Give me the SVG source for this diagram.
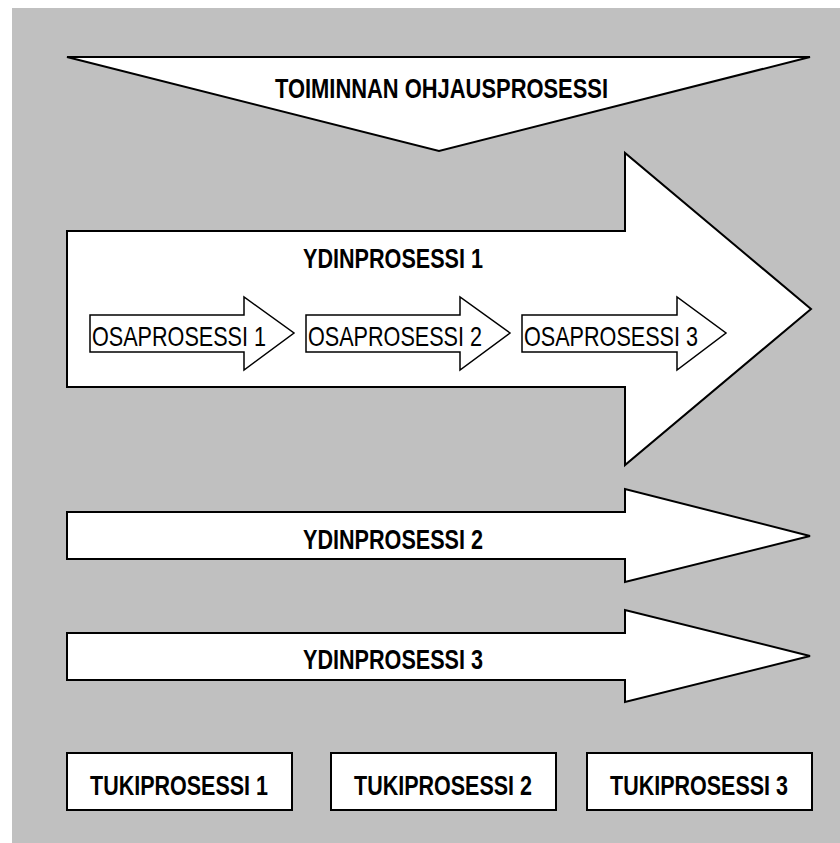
<svg xmlns="http://www.w3.org/2000/svg" width="840" height="843" viewBox="0 0 840 843">
<style>
.shape{fill:#ffffff;stroke:#000000;stroke-width:2;stroke-linejoin:miter}
.small{fill:#ffffff;stroke:#000000;stroke-width:1.5}
.b{font-family:"Liberation Sans",Arial,sans-serif;font-weight:bold;font-size:27px;fill:#000;text-anchor:start}
.r{font-family:"Liberation Sans",Arial,sans-serif;font-size:28px;fill:#000;text-anchor:start}
</style>
<rect x="12" y="8" width="828" height="835" fill="#c0c0c0"/>
<g id="ohjaus">
<polygon class="shape" points="67,57 810,57 439,151"/>
<text class="b" x="275" y="98" textLength="333" lengthAdjust="spacingAndGlyphs">TOIMINNAN OHJAUSPROSESSI</text>
</g>
<g id="ydin1">
<polygon class="shape" points="67,231 625,231 625,153 811,309 625,465 625,387 67,387"/>
<text class="b" x="303" y="268" textLength="180" lengthAdjust="spacingAndGlyphs">YDINPROSESSI 1</text>
</g>
<g id="osa1">
<polygon class="small" points="90,315 244,315 244,297 294,333 244,370 244,352 90,352"/>
<text class="r" x="92" y="346" textLength="174" lengthAdjust="spacingAndGlyphs">OSAPROSESSI 1</text>
</g>
<g id="osa2">
<polygon class="small" points="306,315 460,315 460,297 510,333 460,370 460,352 306,352"/>
<text class="r" x="308" y="346" textLength="174" lengthAdjust="spacingAndGlyphs">OSAPROSESSI 2</text>
</g>
<g id="osa3">
<polygon class="small" points="522,315 677,315 677,297 726,333 677,370 677,352 522,352"/>
<text class="r" x="524" y="346" textLength="174" lengthAdjust="spacingAndGlyphs">OSAPROSESSI 3</text>
</g>
<g id="ydin2">
<polygon class="shape" points="67,512 625,512 625,489 810,536 625,582 625,559 67,559"/>
<text class="b" x="303" y="549" textLength="180" lengthAdjust="spacingAndGlyphs">YDINPROSESSI 2</text>
</g>
<g id="ydin3">
<polygon class="shape" points="67,633 625,633 625,610 810,656 625,702 625,680 67,680"/>
<text class="b" x="303" y="669" textLength="180" lengthAdjust="spacingAndGlyphs">YDINPROSESSI 3</text>
</g>
<g id="tuki1">
<rect class="shape" x="67" y="753" width="225" height="57"/>
<text class="b" x="90" y="795" textLength="178" lengthAdjust="spacingAndGlyphs">TUKIPROSESSI 1</text>
</g>
<g id="tuki2">
<rect class="shape" x="331" y="753" width="225" height="57"/>
<text class="b" x="354" y="795" textLength="178" lengthAdjust="spacingAndGlyphs">TUKIPROSESSI 2</text>
</g>
<g id="tuki3">
<rect class="shape" x="587" y="753" width="225" height="57"/>
<text class="b" x="610" y="795" textLength="178" lengthAdjust="spacingAndGlyphs">TUKIPROSESSI 3</text>
</g>
<g id="connectors"/>
</svg>
